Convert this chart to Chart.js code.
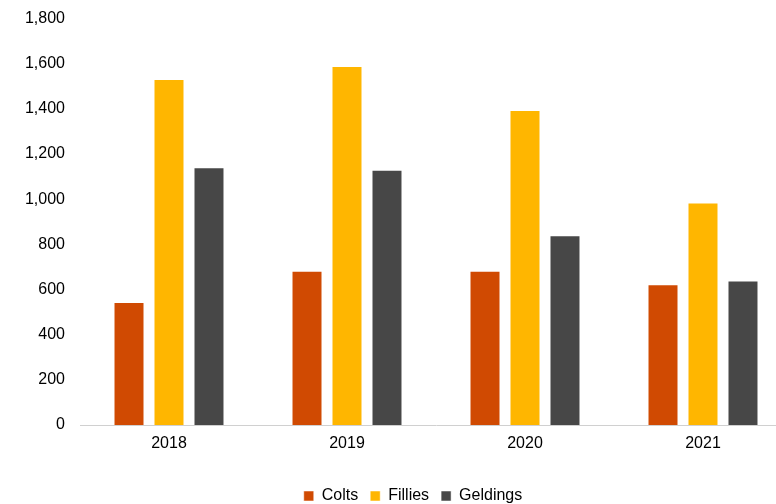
<!DOCTYPE html>
<html>
<head>
<meta charset="utf-8">
<script src="https://cdn.jsdelivr.net/npm/chart.js@4"></script>
<style>
  html, body { margin: 0; padding: 0; background: #fff; overflow: hidden; }
  #wrap { position: relative; top: -6px; width: 824px; height: 510px; }
</style>
</head>
<body>
<div id="wrap"><canvas id="horseChart"></canvas></div>
<script>
const years = ["2018", "2019", "2020", "2021"];
const colts = [545, 683, 683, 623];
const fillies = [1532, 1590, 1395, 986];
const geldings = [1142, 1130, 840, 640];

Chart.defaults.font.family = "'Liberation Sans', Arial, sans-serif";
Chart.defaults.font.size = 16;
Chart.defaults.color = "#000";

function makeSet(label, data, color) {
    return {
        label: label,
        data: data,
        backgroundColor: color,
        borderColor: "rgba(255,255,255,0.5)",
        borderWidth: 1,
        barPercentage: 0.775,
        categoryPercentage: 0.674
    };
}

// nudge the legend so it sits centred like the original
const shiftLegend = {
    id: "shiftLegend",
    afterLayout(chart) {
        chart.legend.left += 17;
        chart.legend.right += 17;
    }
};

new Chart(document.getElementById("horseChart").getContext("2d"), {
    type: "bar",
    data: {
        labels: years,
        datasets: [
            makeSet("Colts", colts, "#D04A02"),
            makeSet("Fillies", fillies, "#FFB600"),
            makeSet("Geldings", geldings, "#474747")
        ]
    },
    plugins: [shiftLegend],
    options: {
        responsive: true,
        maintainAspectRatio: false,
        animation: false,
        layout: { padding: { top: 0, right: 32, left: 0, bottom: -10 } },
        plugins: {
            tooltip: { enabled: false },
            legend: {
                position: "bottom",
                labels: { boxWidth: 10, boxHeight: 10, padding: 12 }
            }
        },
        scales: {
            x: {
                grid: { display: false, drawTicks: false },
                border: { display: true, color: "#d0d0d0", width: 1 },
                ticks: { padding: 9 },
                afterFit: (s) => { s.height = 51; }
            },
            y: {
                min: 0,
                max: 1800,
                grid: { display: false, drawTicks: false },
                border: { display: false },
                ticks: {
                    stepSize: 200,
                    padding: 15,
                    callback: (v) => v.toLocaleString("en-US")
                },
                afterFit: (s) => { s.width = 80; }
            }
        }
    }
});
</script>
</body>
</html>
